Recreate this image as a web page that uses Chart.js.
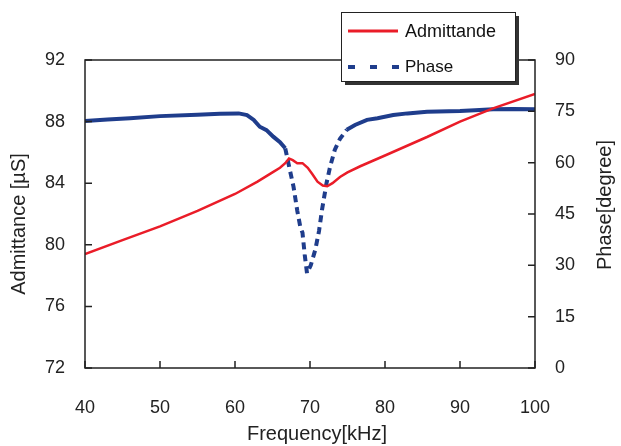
<!DOCTYPE html>
<html>
<head>
<meta charset="utf-8">
<script src="https://cdn.jsdelivr.net/npm/chart.js@4.4.1/dist/chart.umd.min.js"></script>
<style>
  html, body { margin: 0; padding: 0; background: #fff; }
  #wrap { width: 621px; height: 446px; }
</style>
</head>
<body>
<div id="wrap"><canvas id="admChart" width="621" height="446"></canvas></div>
<script>
// values
const admFreq = [40, 45, 50, 55, 60, 63, 65, 66, 66.7, 67.2, 67.7, 68.3, 69, 69.7, 70.3, 71, 71.7, 72.3, 73, 74, 75, 76.7, 80, 85.6, 90, 94.4, 100];
const admittance = [79.4, 80.3, 81.2, 82.2, 83.3, 84.1, 84.7, 85.0, 85.3, 85.6, 85.5, 85.3, 85.3, 85.0, 84.6, 84.1, 83.85, 83.8, 84.0, 84.4, 84.7, 85.1, 85.8, 87.0, 88.0, 88.86, 89.8];

const phaseFreq = [40, 43, 46, 50, 55, 58, 60.5, 61.6, 62.5, 63.3, 64.2, 65.1, 66, 66.7, 67.3, 67.8, 68.3, 68.7, 69, 69.3, 69.6, 70.1, 70.7, 71.2, 71.6, 72.2, 72.7, 73.3, 74, 74.9, 76, 77.6, 79, 81.1, 83, 85.6, 90, 92, 94.4, 97, 100];
const phase = [72.2, 72.6, 73.0, 73.6, 74.0, 74.3, 74.4, 73.9, 72.5, 70.5, 69.5, 67.6, 66.0, 64.2, 58, 53, 46, 41.3, 39.5, 33, 27.7, 30, 34.5, 40, 46.2, 54, 59, 63.7, 67, 69.6, 71, 72.5, 73.0, 73.9, 74.4, 74.9, 75.1, 75.3, 75.6, 75.7, 75.6];

const xTicks = [40, 50, 60, 70, 80, 90, 100];
const admTicks = [72, 76, 80, 84, 88, 92];
const phaseTicks = [0, 15, 30, 45, 60, 75, 90];

const RED = '#ea1c28';
const BLUE = '#1f3d8c';
const FONT = '"Liberation Sans", Arial, sans-serif';

Chart.defaults.font.family = FONT;
Chart.defaults.color = '#222';

const frame = {
    id: 'frame',
    beforeDraw(chart) {
        const c = chart.ctx;
        c.save();
        c.fillStyle = '#fff';
        c.fillRect(0, 0, chart.width, chart.height);
        c.restore();
    },
    afterDraw(chart) {
        const c = chart.ctx;
        const a = chart.chartArea;
        const s = chart.scales;
        c.save();
        c.strokeStyle = '#222';
        c.lineWidth = 1.5;
        c.strokeRect(a.left, a.top, a.right - a.left, a.bottom - a.top);

        // inward tick marks
        c.beginPath();
        xTicks.forEach(v => {
            const px = s.x.getPixelForValue(v);
            c.moveTo(px, a.bottom);
            c.lineTo(px, a.bottom - 7);
        });
        admTicks.forEach(v => {
            const py = s.y.getPixelForValue(v);
            c.moveTo(a.left, py);
            c.lineTo(a.left + 7, py);
        });
        phaseTicks.forEach(v => {
            const py = s.y2.getPixelForValue(v);
            c.moveTo(a.right, py);
            c.lineTo(a.right - 7, py);
        });
        c.stroke();

        // axis titles
        c.fillStyle = '#222';
        c.font = '20px ' + FONT;
        c.textAlign = 'center';
        c.textBaseline = 'middle';
        c.fillText('Frequency[kHz]', 317, 434);
        c.save();
        c.translate(19, 224);
        c.rotate(-Math.PI / 2);
        c.fillText('Admittance [\u00b5S]', 0, 0);
        c.restore();
        c.save();
        c.translate(605, 205);
        c.rotate(-Math.PI / 2);
        c.fillText('Phase[degree]', 0, 0);
        c.restore();

        // legend box with shadow
        const lx = 341, ly = 12, lw = 174, lh = 69;
        c.fillStyle = '#333';
        c.fillRect(lx + 4, ly + 4, lw, lh);
        c.fillStyle = '#fff';
        c.fillRect(lx, ly, lw, lh);
        c.strokeStyle = '#222';
        c.lineWidth = 1;
        c.strokeRect(lx + 0.5, ly + 0.5, lw, lh);

        const ds = chart.data.datasets;
        c.lineWidth = 3;
        c.strokeStyle = ds[0].borderColor;
        c.beginPath();
        c.moveTo(348, 31);
        c.lineTo(398, 31);
        c.stroke();
        c.lineWidth = 4;
        c.strokeStyle = ds[1].borderColor;
        c.setLineDash([7, 15]);
        c.beginPath();
        c.moveTo(348, 67);
        c.lineTo(400, 67);
        c.stroke();
        c.setLineDash([]);

        c.fillStyle = '#111';
        c.font = '18px ' + FONT;
        c.textAlign = 'left';
        c.fillText(ds[0].label, 405, 32);
        c.font = '17px ' + FONT;
        c.fillText(ds[1].label, 405, 67);
        c.restore();
    }
};

const ctx = document.getElementById('admChart').getContext('2d');

const admChart = new Chart(ctx, {
    type: 'line',
    data: {
        datasets: [
            {
                label: 'Admittande',
                data: admFreq.map((f, i) => ({ x: f, y: admittance[i] })),
                borderColor: RED,
                borderWidth: 2.5,
                pointRadius: 0,
                tension: 0,
                yAxisID: 'y'
            },
            {
                label: 'Phase',
                data: phaseFreq.map((f, i) => ({ x: f, y: phase[i] })),
                borderColor: BLUE,
                borderWidth: 4,
                pointRadius: 0,
                tension: 0,
                yAxisID: 'y2',
                segment: {
                    borderDash: sc => (sc.p0.parsed.x >= 66.7 && sc.p1.parsed.x <= 75) ? [7, 5] : []
                }
            }
        ]
    },
    options: {
        responsive: false,
        animation: false,
        layout: { padding: { top: 60, left: 0, right: 0, bottom: 0 } },
        plugins: {
            legend: { display: false },
            tooltip: { enabled: false }
        },
        scales: {
            x: {
                type: 'linear',
                min: 40,
                max: 100,
                afterBuildTicks: sc => { sc.ticks = xTicks.map(v => ({ value: v })); },
                afterFit: sc => { sc.height = 78; },
                ticks: { padding: 29, font: { size: 18 }, maxRotation: 0 },
                grid: { display: false, drawTicks: false },
                border: { display: false }
            },
            y: {
                position: 'left',
                min: 72,
                max: 92,
                afterBuildTicks: sc => { sc.ticks = admTicks.map(v => ({ value: v })); },
                afterFit: sc => { sc.width = 85; },
                ticks: { padding: 20, font: { size: 18 } },
                grid: { display: false, drawTicks: false },
                border: { display: false }
            },
            y2: {
                position: 'right',
                min: 0,
                max: 90,
                afterBuildTicks: sc => { sc.ticks = phaseTicks.map(v => ({ value: v })); },
                afterFit: sc => { sc.width = 86; },
                ticks: { padding: 20, font: { size: 18 } },
                grid: { display: false, drawTicks: false },
                border: { display: false }
            }
        }
    },
    plugins: [frame]
});
</script>
</body>
</html>
